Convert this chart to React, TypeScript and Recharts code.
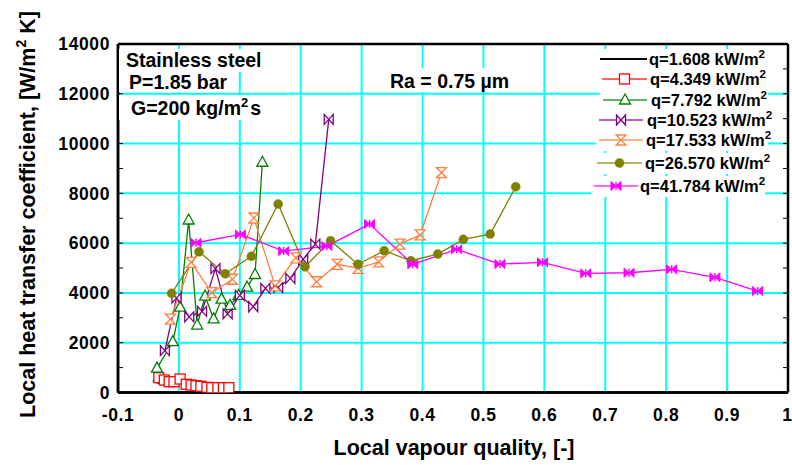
import React from 'react';
import { LineChart, Line, XAxis, YAxis, CartesianGrid } from 'recharts';

type Pt = { x: number; y: number };

// q = 1.608 kW/m2
const q1608: Pt[] = [
  { x: -0.043, y: 470 }, { x: -0.033, y: 370 }, { x: -0.02, y: 280 }, { x: -0.005, y: 300 },
];
// q = 4.349 kW/m2
const q4349: Pt[] = [
  { x: -0.033, y: 594 }, { x: -0.024, y: 502 }, { x: -0.016, y: 434 }, { x: -0.008, y: 434 },
  { x: 0.002, y: 542 }, { x: 0.012, y: 329 }, { x: 0.02, y: 301 }, { x: 0.028, y: 273 },
  { x: 0.036, y: 249 }, { x: 0.046, y: 209 }, { x: 0.054, y: 193 }, { x: 0.064, y: 193 },
  { x: 0.073, y: 193 }, { x: 0.082, y: 193 },
];
// q = 7.792 kW/m2
const q7792: Pt[] = [
  { x: -0.036, y: 980 }, { x: -0.01, y: 2040 }, { x: 0.002, y: 3430 }, { x: 0.016, y: 6930 },
  { x: 0.03, y: 2710 }, { x: 0.043, y: 3870 }, { x: 0.057, y: 2960 }, { x: 0.07, y: 3750 },
  { x: 0.084, y: 3500 }, { x: 0.098, y: 3900 }, { x: 0.112, y: 4230 }, { x: 0.125, y: 4740 },
  { x: 0.137, y: 9250 },
];
// q = 10.523 kW/m2
const q10523: Pt[] = [
  { x: -0.023, y: 1680 }, { x: -0.004, y: 3790 }, { x: 0.017, y: 3040 }, { x: 0.038, y: 3260 },
  { x: 0.06, y: 4975 }, { x: 0.08, y: 3160 }, { x: 0.1, y: 3900 }, { x: 0.122, y: 3446 },
  { x: 0.142, y: 4185 }, { x: 0.163, y: 4215 }, { x: 0.183, y: 4586 }, { x: 0.204, y: 5350 },
  { x: 0.224, y: 5960 }, { x: 0.246, y: 10970 },
];
// q = 17.533 kW/m2
const q17533: Pt[] = [
  { x: -0.014, y: 2945 }, { x: 0.02, y: 5230 }, { x: 0.054, y: 4010 }, { x: 0.088, y: 4550 },
  { x: 0.123, y: 7010 }, { x: 0.158, y: 4280 }, { x: 0.192, y: 5410 }, { x: 0.226, y: 4450 },
  { x: 0.26, y: 5150 }, { x: 0.294, y: 4990 }, { x: 0.328, y: 5250 }, { x: 0.363, y: 5960 },
  { x: 0.396, y: 6330 }, { x: 0.431, y: 8830 },
];
// q = 26.570 kW/m2
const q26570: Pt[] = [
  { x: -0.012, y: 3985 }, { x: 0.033, y: 5655 }, { x: 0.076, y: 4770 }, { x: 0.119, y: 5470 },
  { x: 0.163, y: 7570 }, { x: 0.207, y: 5052 }, { x: 0.249, y: 6096 }, { x: 0.294, y: 5149 },
  { x: 0.337, y: 5695 }, { x: 0.381, y: 5293 }, { x: 0.425, y: 5562 }, { x: 0.467, y: 6152 },
  { x: 0.511, y: 6365 }, { x: 0.553, y: 8265 },
];
// q = 41.784 kW/m2
const q41784: Pt[] = [
  { x: 0.028, y: 6016 }, { x: 0.101, y: 6350 }, { x: 0.172, y: 5680 }, { x: 0.243, y: 5883 },
  { x: 0.313, y: 6767 }, { x: 0.384, y: 5149 }, { x: 0.456, y: 5750 }, { x: 0.527, y: 5160 },
  { x: 0.597, y: 5229 }, { x: 0.668, y: 4787 }, { x: 0.739, y: 4811 }, { x: 0.809, y: 4947 },
  { x: 0.88, y: 4626 }, { x: 0.95, y: 4076 },
];

const xTicks = [-0.1, 0, 0.1, 0.2, 0.3, 0.4, 0.5, 0.6, 0.7, 0.8, 0.9, 1];
const yTicks = [0, 2000, 4000, 6000, 8000, 10000, 12000, 14000];
const xMinorTicks: number[] = [];
for (let i = 0; i <= 55; i++) xMinorTicks.push(Math.round((-0.1 + i * 0.02) * 1000) / 1000);
const yMinorTicks: number[] = [];
for (let i = 0; i <= 14; i++) yMinorTicks.push(i * 1000);

const C_BLACK = '#000000';
const C_RED = '#FF0000';
const C_GREEN = '#008000';
const C_PURPLE = '#800080';
const C_ORANGE = '#FF8040';
const C_OLIVE = '#808000';
const C_MAGENTA = '#FF00FF';

type ShapeKind = 'none' | 'square' | 'triangle' | 'bowtie' | 'hourglass' | 'circle' | 'solidbowtie';

const Marker = ({ kind, cx, cy, color }: { kind: ShapeKind; cx: number; cy: number; color: string }) => {
  if (cx == null || cy == null || isNaN(cx) || isNaN(cy)) return null;
  switch (kind) {
    case 'square':
      return <rect x={cx - 5} y={cy - 5} width={10} height={10} fill="#fff" stroke={color} strokeWidth={1.3} />;
    case 'triangle':
      return <path d={`M${cx},${cy - 6} L${cx + 5.5},${cy + 4} L${cx - 5.5},${cy + 4} Z`} fill="#fff" stroke={color} strokeWidth={1.3} />;
    case 'bowtie':
      return <path d={`M${cx - 4.5},${cy - 5} L${cx + 4.5},${cy + 5} L${cx + 4.5},${cy - 5} L${cx - 4.5},${cy + 5} Z`} fill="#fff" stroke={color} strokeWidth={1.3} />;
    case 'hourglass':
      return <path d={`M${cx - 5},${cy - 5} L${cx + 5},${cy - 5} L${cx - 5},${cy + 5} L${cx + 5},${cy + 5} Z`} fill="#fff" stroke={color} strokeWidth={1.3} />;
    case 'circle':
      return <circle cx={cx} cy={cy} r={4.5} fill={color} stroke={color} strokeWidth={0.5} />;
    case 'solidbowtie':
      return (
        <g>
          <path d={`M${cx - 5},${cy - 4.5} L${cx + 5},${cy + 4.5} L${cx + 5},${cy - 4.5} L${cx - 5},${cy + 4.5} Z`} fill={color} stroke={color} strokeWidth={1} />
          <line x1={cx} y1={cy - 4} x2={cx} y2={cy + 4} stroke={color} strokeWidth={1.5} />
        </g>
      );
    default:
      return null;
  }
};

const dotFor = (kind: ShapeKind, color: string) => (p: any) => (
  <Marker key={`m-${kind}-${p.index}`} kind={kind} cx={p.cx} cy={p.cy} color={color} />
);

const series = [
  { name: '1.608', data: q1608, color: C_BLACK, kind: 'none' as ShapeKind },
  { name: '4.349', data: q4349, color: C_RED, kind: 'square' as ShapeKind },
  { name: '7.792', data: q7792, color: C_GREEN, kind: 'triangle' as ShapeKind },
  { name: '10.523', data: q10523, color: C_PURPLE, kind: 'bowtie' as ShapeKind },
  { name: '17.533', data: q17533, color: C_ORANGE, kind: 'hourglass' as ShapeKind },
  { name: '26.570', data: q26570, color: C_OLIVE, kind: 'circle' as ShapeKind },
  { name: '41.784', data: q41784, color: C_MAGENTA, kind: 'solidbowtie' as ShapeKind },
];

// legend row layout
const legendRows = [
  { y: 59, x1: 600, x2: 647, tx: 649, w: 168 },
  { y: 79, x1: 602, x2: 647, tx: 650, w: 168 },
  { y: 100, x1: 603, x2: 647, tx: 651, w: 168 },
  { y: 120, x1: 599, x2: 643, tx: 647, w: 172 },
  { y: 140, x1: 599, x2: 643, tx: 646, w: 172 },
  { y: 163, x1: 597, x2: 642, tx: 645, w: 172 },
  { y: 186, x1: 594, x2: 638, tx: 640, w: 174 },
];

const FONT = 'Arial, "Liberation Sans", Helvetica, sans-serif';
const tickStyle = { fontSize: 17.5, fontWeight: 700, fill: '#000', letterSpacing: 0.6, fontFamily: FONT };
const fmtX = (v: number) => String(Number(v.toFixed(1)));
const blank = () => '';
const border = { stroke: '#000', strokeWidth: 2.5 };
const minorTick = { stroke: '#000', strokeWidth: 1 };

export default function App() {
  return (
    <div style={{ position: 'absolute', left: 0, top: 0, width: 792, height: 465, background: '#fff', fontFamily: FONT }}>
      <LineChart width={792} height={465} margin={{ top: 44, right: 4, bottom: 42.5, left: 0 }}>
        <CartesianGrid stroke="#00FFFF" strokeWidth={2} />
        <XAxis
          dataKey="x"
          type="number"
          domain={[-0.1, 1]}
          allowDataOverflow
          ticks={xTicks}
          tickFormatter={fmtX}
          tick={tickStyle}
          tickLine={false}
          tickSize={0}
          tickMargin={16}
          axisLine={border}
          height={30}
        />
        <YAxis
          type="number"
          domain={[0, 14000]}
          allowDataOverflow
          ticks={yTicks}
          tick={tickStyle}
          tickLine={false}
          tickSize={0}
          tickMargin={8}
          axisLine={border}
          width={118}
        />
        <XAxis xAxisId="bm" orientation="bottom" mirror type="number" domain={[-0.1, 1]} allowDataOverflow ticks={xMinorTicks} tickFormatter={blank} tickSize={4} tickLine={minorTick} axisLine={border} />
        <XAxis xAxisId="tm" orientation="top" mirror type="number" domain={[-0.1, 1]} allowDataOverflow ticks={xMinorTicks} tickFormatter={blank} tickSize={4} tickLine={minorTick} axisLine={border} />
        <YAxis yAxisId="lm" orientation="left" mirror type="number" domain={[0, 14000]} allowDataOverflow ticks={yMinorTicks} tickFormatter={blank} tickSize={5} tickLine={minorTick} axisLine={border} />
        <YAxis yAxisId="rm" orientation="right" mirror type="number" domain={[0, 14000]} allowDataOverflow ticks={yMinorTicks} tickFormatter={blank} tickSize={5} tickLine={minorTick} axisLine={border} />
        {series.map((s) => (
          <Line
            key={s.name}
            data={s.data}
            dataKey="y"
            type="linear"
            stroke={s.color}
            strokeWidth={1.3}
            dot={s.kind === 'none' ? false : dotFor(s.kind, s.color)}
            activeDot={false}
            isAnimationActive={false}
          />
        ))}
      </LineChart>
      <svg width={792} height={465} style={{ position: 'absolute', left: 0, top: 0, pointerEvents: 'none' }} fontFamily={FONT}>
        {/* annotations */}
        <rect x={119} y={49} width={146} height={23} fill="#fff" />
        <text x={126} y={67} fontSize={19.5} fontWeight={700} fill="#000">Stainless steel</text>
        <rect x={119} y={72} width={113} height={20} fill="#fff" />
        <text x={129} y={89.3} fontSize={19.5} fontWeight={700} fill="#000">P=1.85 bar</text>
        <rect x={119} y={95} width={150} height={25} fill="#fff" />
        <text x={131} y={115} fontSize={19.5} fontWeight={700} fill="#000">
          G=200 kg/m<tspan dy={-8} fontSize={13}>2</tspan><tspan dy={8} dx={2}>s</tspan>
        </text>
        <rect x={385} y={68} width={136} height={24} fill="#fff" />
        <text x={390} y={88.3} fontSize={19.5} fontWeight={700} fill="#000">Ra = 0.75 µm</text>

        {/* legend */}
        {series.map((s, i) => {
          const r = legendRows[i];
          const mx = (r.x1 + r.x2) / 2;
          return (
            <g key={`lg-${s.name}`}>
              <rect x={r.x1 - 3} y={r.y - 10} width={r.w} height={21} fill="#fff" />
              <line x1={r.x1} y1={r.y} x2={r.x2} y2={r.y} stroke={s.color} strokeWidth={2.2} strokeOpacity={s.kind === 'none' ? 1 : 0.6} />
              <Marker kind={s.kind} cx={mx} cy={r.y} color={s.color} />
              <text x={r.tx} y={r.y + 6} fontSize={16.5} fontWeight={700} fill="#000">
                q={s.name} kW/m<tspan dy={-7} fontSize={11.5}>2</tspan>
              </text>
            </g>
          );
        })}

        {/* axis titles */}
        <text transform="translate(35,214.5) rotate(-90)" textAnchor="middle" fontSize={21.5} fontWeight={700} fill="#000">
          Local heat transfer coefficient, [W/m<tspan dy={-9} fontSize={14}>2</tspan><tspan dy={9}> K]</tspan>
        </text>
        <text x={454} y={455} textAnchor="middle" fontSize={21.5} fontWeight={700} fill="#000">Local vapour quality, [-]</text>
      </svg>
    </div>
  );
}
